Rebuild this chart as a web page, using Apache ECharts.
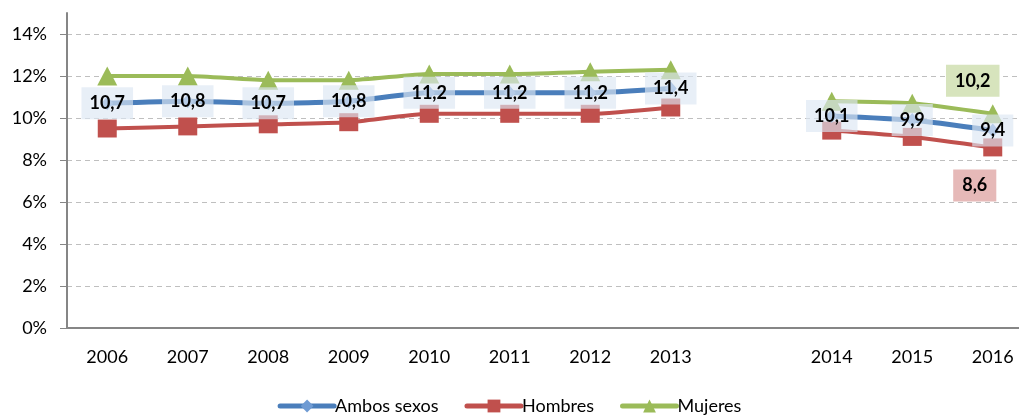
<!DOCTYPE html>
<html>
<head>
<meta charset="utf-8">
<script src="https://cdn.jsdelivr.net/npm/echarts@6/dist/echarts.min.js"></script>
<style>
html,body{margin:0;padding:0;background:#fff;}
#c{width:1019px;height:415px;}
</style>
</head>
<body>
<div id="c"></div>
<script>
const categories = ['2006','2007','2008','2009','2010','2011','2012','2013','','2014','2015','2016'];
const ambos   = [10.7,10.8,10.7,10.8,11.2,11.2,11.2,11.4,null,10.1,9.9,9.4];
const hombres = [9.5,9.6,9.7,9.8,10.2,10.2,10.2,10.5,null,9.4,9.1,8.6];
const mujeres = [12.0,12.0,11.8,11.8,12.1,12.1,12.2,12.3,null,10.8,10.7,10.2];
const yTicks  = [0,2,4,6,8,10,12,14];

const FONT = 'Lato';
const fmt = v => (v == null ? '' : v.toFixed(1).replace('.', ','));

function lastLabeled(arr, labelCfg) {
  const last = arr.length - 1;
  return arr.map((v, i) => i === last ? { value: v, label: labelCfg } : v);
}

const chart = echarts.init(document.getElementById('c'));
chart.setOption({
  animation: false,
  textStyle: { fontFamily: FONT },
  grid: { left: 67, width: 966, top: 13, bottom: 87, containLabel: false, outerBoundsMode: 'none' },
  xAxis: {
    type: 'category',
    data: categories,
    boundaryGap: true,
    axisLine: { show: true, lineStyle: { color: '#868686', width: 2 } },
    axisTick: { show: false },
    axisLabel: { color: '#000', fontSize: 18, fontFamily: FONT, margin: 20, interval: 0 },
    splitLine: { show: false }
  },
  yAxis: {
    type: 'value',
    min: 0, max: 15, interval: 2,
    axisLine: { show: true, lineStyle: { color: '#868686', width: 2 } },
    axisTick: { show: true, inside: false, length: 7, customValues: yTicks, lineStyle: { color: '#868686', width: 1 } },
    axisLabel: { color: '#000', fontSize: 18, fontFamily: FONT, margin: 20,
                 customValues: yTicks, formatter: v => v + '%' },
    splitLine: { show: true, showMinLine: false,
                 lineStyle: { color: '#bfbfbf', type: [5, 4], width: 1 } }
  },
  legend: {
    top: 392,
    left: 'center',
    itemWidth: 54,
    itemHeight: 16,
    itemGap: 26,
    lineStyle: { width: 5, cap: 'round' },
    textStyle: { color: '#000', fontSize: 18, fontFamily: FONT, padding: [0, 0, 0, -4] },
    data: ['Ambos sexos', 'Hombres', 'Mujeres']
  },
  series: [
    {
      name: 'Hombres',
      type: 'line',
      data: lastLabeled(hombres, {
        show: true, position: 'inside', offset: [-18, 38],
        formatter: p => fmt(p.value),
        color: '#000', fontWeight: 'bold', fontSize: 18, fontFamily: FONT,
        backgroundColor: '#e6b9b8', padding: [7, 9]
      }),
      connectNulls: false,
      smooth: 0.2,
      symbol: 'rect',
      symbolSize: [19, 18],
      itemStyle: { color: '#c0504d' },
      lineStyle: { color: '#c0504d', width: 4 },
      label: { show: false },
      z: 2
    },
    {
      name: 'Mujeres',
      type: 'line',
      data: lastLabeled(mujeres, {
        show: true, position: 'inside', offset: [-20, -33],
        formatter: p => fmt(p.value),
        color: '#000', fontWeight: 'bold', fontSize: 18, fontFamily: FONT,
        backgroundColor: '#d7e4bd', padding: [7, 9]
      }),
      connectNulls: false,
      smooth: 0.2,
      symbol: 'triangle',
      symbolSize: [20, 19],
      itemStyle: { color: '#9bbb59' },
      lineStyle: { color: '#9bbb59', width: 4 },
      label: { show: false },
      z: 2
    },
    {
      name: 'Ambos sexos',
      type: 'line',
      data: ambos,
      connectNulls: false,
      smooth: 0.2,
      symbol: 'diamond',
      symbolSize: [12, 14],
      itemStyle: { color: '#6f9bd3' },
      lineStyle: { color: '#4a7ebb', width: 5 },
      label: {
        show: true, position: 'inside',
        formatter: p => fmt(p.value),
        color: '#000', fontWeight: 'bold', fontSize: 18, fontFamily: FONT,
        backgroundColor: 'rgba(220,230,242,0.65)', padding: [7, 8]
      },
      z: 3
    }
  ]
});
</script>
</body>
</html>
